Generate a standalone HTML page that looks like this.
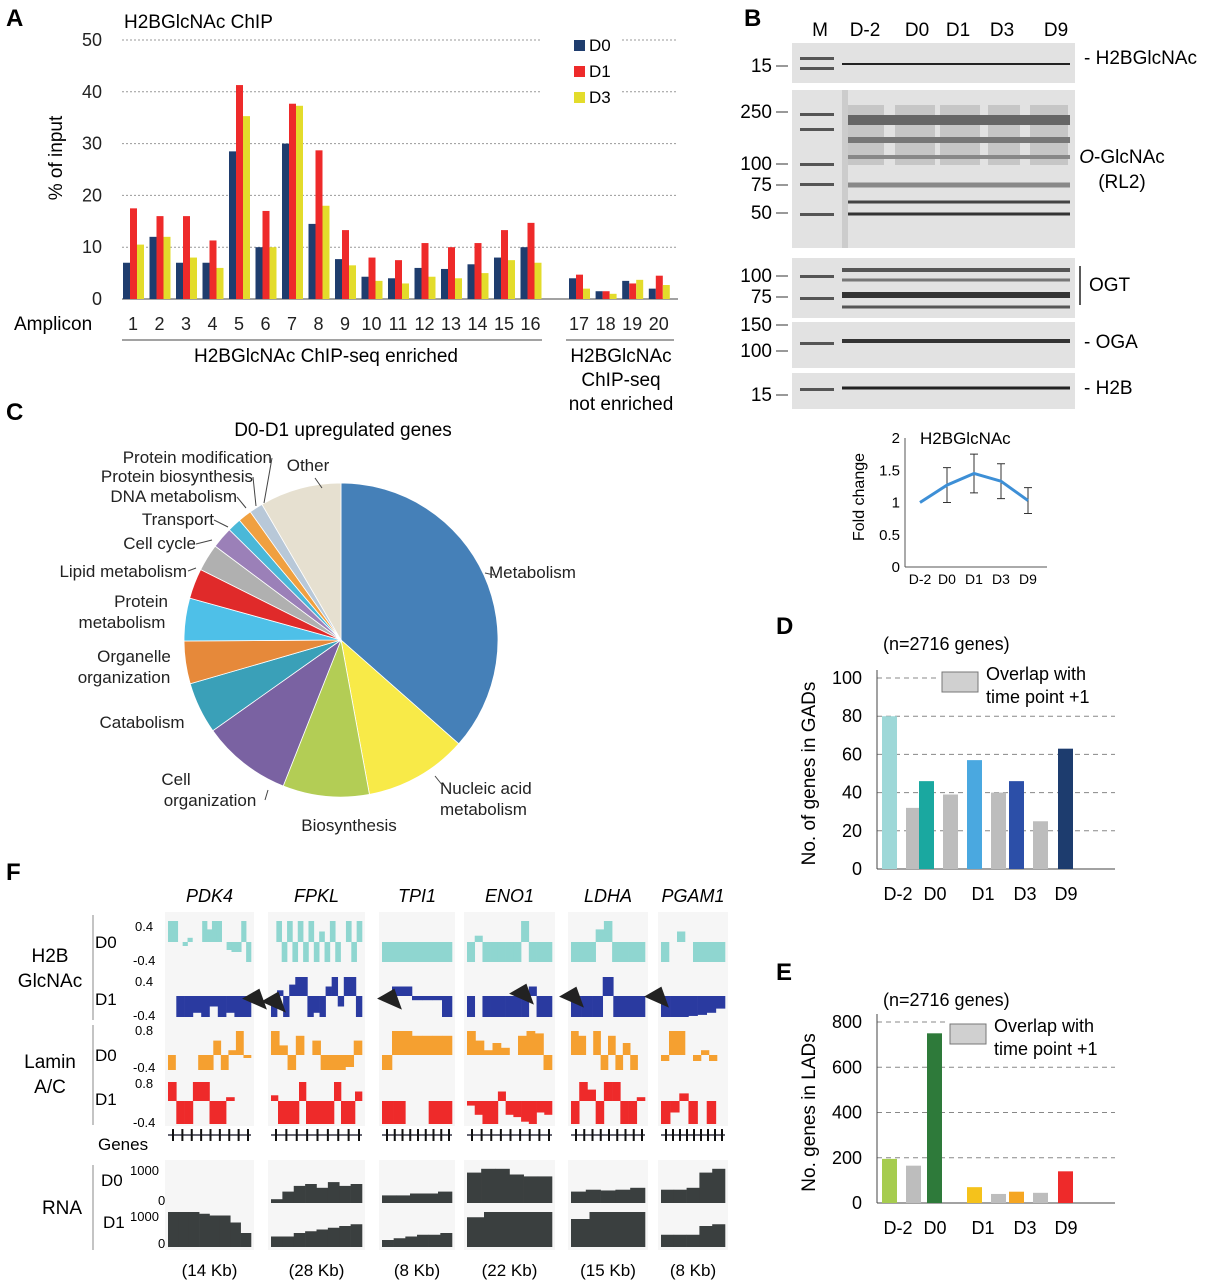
<!DOCTYPE html>
<html><head><meta charset="utf-8"><style>
body{margin:0;background:#fff}
svg{display:block;font-family:"Liberation Sans",Arial,sans-serif}
</style></head><body>
<svg id="fig" width="1217" height="1280" viewBox="0 0 1217 1280" xmlns="http://www.w3.org/2000/svg">
<g font-weight="bold" font-size="24">
<text x="6" y="26">A</text>
<text x="744" y="26">B</text>
<text x="6" y="420">C</text>
<text x="776" y="634">D</text>
<text x="6" y="880">F</text>
<text x="776" y="980">E</text>
</g>
<g id="panelA"></g>
<g id="panelB"></g>
<g id="panelC"></g>
<g id="panelD"></g>
<g id="panelE"></g>
<g id="panelF"></g>
</svg>
<script>
// ---------- Panel A data ----------
const ampliconLabels = ["1","2","3","4","5","6","7","8","9","10","11","12","13","14","15","16","17","18","19","20"];
const seriesD0 = [7,12,7,7,28.5,10,30,14.5,7.7,4.3,4,6,5.8,6.7,8,10,4,1.5,3.5,2];
const seriesD1 = [17.5,16,16,11.3,41.3,17,37.7,28.7,13.3,8,7.5,10.8,10,10.8,13.3,14.7,4.7,1.5,3,4.5];
const seriesD3 = [10.5,12,8,6,35.3,10,37.3,18,6.5,3.5,3,4.3,4,5,7.5,7,2,1,3.7,2.7];
const aTicks = [0,10,20,30,40,50];
// ---------- Fold change data ----------
const fcCats = ["D-2","D0","D1","D3","D9"];
const fcVals = [1,1.27,1.45,1.33,1.03];
const fcErr = [0,0.27,0.3,0.27,0.2];
const fcTicks = [0,0.5,1,1.5,2];
// ---------- Panel C data ----------
const pieLabels = ["Metabolism","Nucleic acid metabolism","Biosynthesis","Cell organization","Catabolism","Organelle organization","Protein metabolism","Lipid metabolism","Cell cycle","Transport","DNA metabolism","Protein biosynthesis","Protein modification","Other"];
const pieValues = [36.5,10.6,8.9,9.2,5.3,4.4,4.4,3.1,2.8,2.2,1.4,1.4,1.4,8.4];
// ---------- Panel D data ----------
const dCats = ["D-2","D0","D1","D3","D9"];
const dMain = [80,46,57,46,63];
const dOverlap = [32,39,40,25,null];
const dTicks = [0,20,40,60,80,100];
// ---------- Panel E data ----------
const eCats = ["D-2","D0","D1","D3","D9"];
const eMain = [195,750,70,50,140];
const eOverlap = [165,null,40,45,null];
const eTicks = [0,200,400,600,800];

const NS="http://www.w3.org/2000/svg";
function mk(parent,tag,attrs,text){const e=document.createElementNS(NS,tag);for(const k in attrs)e.setAttribute(k,attrs[k]);if(text!==undefined)e.textContent=text;parent.appendChild(e);return e;}

// ===== Panel A =====
(function(){
const g=document.getElementById('panelA');
const y=v=>299-v*(259/50);
const xs=i=> i<16 ? 133+i*26.5 : 579+(i-16)*26.6;
aTicks.forEach(t=>{
 if(t>0){const l=mk(g,'line',{x1:122,x2:678,y1:y(t),y2:y(t),stroke:'#999','stroke-dasharray':'2,2'});
 
 }
 const tx=mk(g,'text',{x:102,y:y(t)+6,'text-anchor':'end','font-size':18,fill:'#222'},t);
 
 
});
mk(g,'line',{x1:122,x2:678,y1:299,y2:299,stroke:'#444'});
const cols=['#1f3d6e','#ee2a2a','#e3dc2b'];
[seriesD0,seriesD1,seriesD3].forEach((s,k)=>{
 s.forEach((v,i)=>{
  const r=mk(g,'rect',{x:xs(i)-10+k*7,y:y(v),width:7,height:299-y(v),fill:cols[k]});
  
  
 });
});
ampliconLabels.forEach((l,i)=>{
 const t=mk(g,'text',{x:xs(i),y:330,'text-anchor':'middle','font-size':18,fill:'#222'},l);
 
 
});
mk(g,'rect',{x:540,y:38,width:80,height:88,fill:'#fff'});
const lg=[['D0',52],['D1',78],['D3',104]];
lg.forEach((d,k)=>{
 const r=mk(g,'rect',{x:574,y:d[1]-12,width:11,height:11,fill:cols[k]});
 
 
 const t=mk(g,'text',{x:589,y:d[1]-1,'font-size':17},d[0]);
 
 
});
const t1=mk(g,'text',{x:124,y:28,'font-size':19},'H2BGlcNAc ChIP');


const yt=mk(g,'text',{x:0,y:0,'font-size':19,'text-anchor':'middle',transform:'translate(62,158) rotate(-90)'},'% of input');


const amp=mk(g,'text',{x:14,y:330,'font-size':19},'Amplicon');


mk(g,'line',{x1:122,x2:542,y1:340,y2:340,stroke:'#444'});
mk(g,'line',{x1:566,x2:674,y1:340,y2:340,stroke:'#444'});
const e1=mk(g,'text',{x:326,y:362,'font-size':19,'text-anchor':'middle'},'H2BGlcNAc ChIP-seq enriched');


['H2BGlcNAc','ChIP-seq','not enriched'].forEach((s,i)=>{
 const t=mk(g,'text',{x:621,y:362+i*24,'font-size':19,'text-anchor':'middle'},s);
 
 
});
})();

// ===== Panel B blots =====
(function(){
const g=document.getElementById('panelB');
const lanes=[['M',820],['D-2',865],['D0',917],['D1',958],['D3',1002],['D9',1056]];
lanes.forEach(l=>{const t=mk(g,'text',{x:l[1],y:36,'font-size':19,'text-anchor':'middle'},l[0]);
 
 });
const boxes=[[43,40],[90,158],[258,60],[322,46],[373,36]];
boxes.forEach(b=>{const r=mk(g,'rect',{x:792,y:b[0],width:283,height:b[1],fill:'#e2e2e2'});
 
 });
[[57],[67],[113],[128],[163],[183],[213],[275],[297],[342],[388]].forEach(b=>mk(g,'rect',{x:800,y:b[0],width:34,height:3,fill:'#555'}));
[[848,884],[895,935],[940,980],[988,1020],[1030,1068]].forEach(l=>mk(g,'rect',{x:l[0],y:105,width:l[1]-l[0],height:60,fill:'#aaa',opacity:0.5}));
const bandsY=[[64,2,'#222'],[120,10,'#666'],[140,6,'#777'],[157,4,'#888'],[185,5,'#888'],[202,3,'#444'],[214,3,'#333'],[270,4,'#555'],[280,3,'#777'],[295,6,'#333'],[307,3,'#555'],[341,4,'#333'],[388,3,'#222']];
bandsY.forEach(b=>mk(g,'rect',{x:842,y:b[0]-b[1]/2,width:228,height:b[1],fill:b[2]}));
mk(g,'rect',{x:842,y:90,width:6,height:158,fill:'#ccc'});
const ml=[['15',72],['250',118],['100',170],['75',191],['50',219],['100',282],['75',303],['150',331],['100',357],['15',401]];
ml.forEach(m=>{const t=mk(g,'text',{x:772,y:m[1],'font-size':19,'text-anchor':'end'},m[0]);
 
 
 mk(g,'line',{x1:776,x2:788,y1:m[1]-6,y2:m[1]-6,stroke:'#333'});});
const rl=[['- H2BGlcNAc',1084,64],['- OGA',1084,348],['- H2B',1084,394],['OGT',1089,291]];
rl.forEach(r=>{const t=mk(g,'text',{x:r[1],y:r[2],'font-size':19},r[0]);
 
 });
mk(g,'line',{x1:1080,x2:1080,y1:266,y2:305,stroke:'#222','stroke-width':1.5});
const o1=mk(g,'text',{x:1122,y:163,'font-size':19,'text-anchor':'middle'});
const o1a=mk(o1,'tspan',{'font-style':'italic'},'O');
mk(o1,'tspan',{},'-GlcNAc');


const o2=mk(g,'text',{x:1122,y:188,'font-size':19,'text-anchor':'middle'},'(RL2)');


// fold change chart
const y=v=>567-v*(129/2);
const x=i=>920+i*27;
fcTicks.forEach(t=>{const tx=mk(g,'text',{x:900,y:y(t)+5,'font-size':15,'text-anchor':'end'},t);
 
 });
mk(g,'line',{x1:905,x2:905,y1:y(2),y2:567,stroke:'#555'});
mk(g,'line',{x1:905,x2:1047,y1:567,y2:567,stroke:'#555'});
fcCats.forEach((c,i)=>{const tx=mk(g,'text',{x:x(i),y:584,'font-size':14,'text-anchor':'middle'},c);
 
 });
fcVals.forEach((v,i)=>{if(fcErr[i]>0){
 const e=mk(g,'path',{d:`M${x(i)},${y(v+fcErr[i])}V${y(v-fcErr[i])}M${x(i)-4},${y(v+fcErr[i])}h8M${x(i)-4},${y(v-fcErr[i])}h8`,stroke:'#333',fill:'none'});
 
 }});
const ln=mk(g,'polyline',{points:fcVals.map((v,i)=>x(i)+','+y(v)).join(' '),fill:'none',stroke:'#3d8fd6','stroke-width':3});


const tt=mk(g,'text',{x:920,y:444,'font-size':17},'H2BGlcNAc');


const yt=mk(g,'text',{x:0,y:0,'font-size':16,'text-anchor':'middle',transform:'translate(864,497) rotate(-90)'},'Fold change');


})();

// ===== Panel C pie =====
(function(){
const g=document.getElementById('panelC');
const cx=341,cy=640,R=157;
const cols=['#4580b8','#f8ea48','#b3cd55','#7a62a2','#3aa0b8','#e6893a','#4ec0e8','#e02a2a','#b0b0b0','#9b80b8','#4ab8d8','#f0a040','#b8c8d8','#e6e0d0'];
const tot=pieValues.reduce((a,b)=>a+b,0);
let a0=0;
pieValues.forEach((v,i)=>{
 const a1=a0+v/tot*Math.PI*2;
 const p=a=>[cx+R*Math.sin(a),cy-R*Math.cos(a)];
 const s=p(a0),e=p(a1);
 const large=(a1-a0)>Math.PI?1:0;
 const path=mk(g,'path',{d:`M${cx},${cy}L${s[0]},${s[1]}A${R},${R} 0 ${large} 1 ${e[0]},${e[1]}Z`,fill:cols[i],stroke:'#fff','stroke-width':0.8});
 
 
 a0=a1;
});
const labs=[['Metabolism',489,578,'start'],['Nucleic acid',440,794,'start'],['metabolism',440,815,'start'],['Biosynthesis',349,831,'middle'],['Cell',176,785,'middle'],['organization',210,806,'middle'],['Catabolism',142,728,'middle'],['Organelle',134,662,'middle'],['organization',124,683,'middle'],['Protein',141,607,'middle'],['metabolism',122,628,'middle'],['Lipid metabolism',187,577,'end'],['Cell cycle',196,549,'end'],['Transport',214,525,'end'],['DNA metabolism',237,502,'end'],['Protein biosynthesis',253,482,'end'],['Protein modification',272,463,'end'],['Other',308,471,'middle']];
labs.forEach(l=>{const t=mk(g,'text',{x:l[1],y:l[2],'font-size':17,'text-anchor':l[3],fill:'#222'},l[0]);
 
 });
const ldr=['M188,571L196,568','M196,544L212,540','M214,520L228,527','M237,497L246,508','M253,477L256,506','M272,458L264,503','M315,478L322,488','M485,573L494,575','M443,786L435,776','M265,800L268,790'];
ldr.forEach(d=>mk(g,'path',{d:d,stroke:'#444',fill:'none'}));
const tt=mk(g,'text',{x:343,y:436,'font-size':19,'text-anchor':'middle'},'D0-D1 upregulated genes');


})();

// ===== Bar panels D/E =====
function barPanel(gid,cats,main,ov,ticks,y0,yTop,tmax,colors,prefix,title,ytitle,legY,legX){
 const g=document.getElementById(gid);
 const y=v=>y0-v*(y0-yTop)/tmax;
 const xc=[898,935,983,1025,1066];
 ticks.forEach(t=>{
  if(t>0){const l=mk(g,'line',{x1:877,x2:1115,y1:y(t),y2:y(t),stroke:'#888','stroke-dasharray':'5,4'});
  
  }
  const tx=mk(g,'text',{x:862,y:y(t)+6,'font-size':18,'text-anchor':'end'},t);
  
  
 });
 mk(g,'line',{x1:877,x2:877,y1:yTop-8,y2:y0,stroke:'#444'});
 mk(g,'line',{x1:877,x2:1115,y1:y0,y2:y0,stroke:'#444'});
 cats.forEach((c,i)=>{
  const off=ov[i]==null?0:-8;
  const r=mk(g,'rect',{x:xc[i]+off-8,y:y(main[i]),width:15,height:y0-y(main[i]),fill:colors[i]});
  
  
  if(ov[i]!=null){const o=mk(g,'rect',{x:xc[i]+8,y:y(ov[i]),width:15,height:y0-y(ov[i]),fill:'#bdbdbd'});
   
   }
  const tx=mk(g,'text',{x:xc[i],y:y0+31,'font-size':18,'text-anchor':'middle'},c);
  
  
 });
 mk(g,'rect',{x:legX-4,y:legY-22,width:180,height:52,fill:'#fff'});
 const sw=mk(g,'rect',{x:legX,y:legY-8,width:36,height:20,fill:'#d0d0d0',stroke:'#777'});
 
 
 const l1=mk(g,'text',{x:legX+44,y:legY,'font-size':18},'Overlap with');
 
 
 const l2=mk(g,'text',{x:legX+44,y:legY+23,'font-size':18},'time point +1');
 
 
 const tt=mk(g,'text',{x:883,y:title,'font-size':18},'(n=2716 genes)');
 
 
 const yt=mk(g,'text',{x:0,y:0,'font-size':19,'text-anchor':'middle',transform:`translate(815,${(y0+yTop)/2}) rotate(-90)`},ytitle);
 
 
}
barPanel('panelD',dCats,dMain,dOverlap,dTicks,869,678,100,['#9ed8d8','#1aa8a0','#4aa8e0','#2c4fa8','#1d3c6e'],'d',650,'No. of genes in GADs',680,942);
barPanel('panelE',eCats,eMain,eOverlap,eTicks,1203,1022,800,['#a6cc4f','#2e7a3a','#f5c21b','#f5a623','#ee2a2a'],'e',1006,'No. genes in LADs',1032,950);

// ===== Panel F tracks =====
(function(){
const g=document.getElementById('panelF');
const genes=[['PDK4',168,251,'(14 Kb)'],['FPKL',271,362,'(28 Kb)'],['TPI1',382,452,'(8 Kb)'],['ENO1',467,552,'(22 Kb)'],['LDHA',571,645,'(15 Kb)'],['PGAM1',661,725,'(8 Kb)']];
const h2bD0=[[1,1,0,-0.2,0.2,0,0,1,0.6,1,1,0,-0.4,-0.5,-0.5,1,-1],[0,1,-1,1,-1,1,-1,1,-1,0.5,-1,1,-1,0,1,-1,1],[-1,-1,-1,-1],[-1,0.3,-1,-1,-1,-1,-1,1,-1,-1,-1],[-1,-1,-1,0.6,1,-1,-1,-1,-1],[-1,0,0.5,0,-1,-1,-1,-1]];
const h2bD1=[[0,-1,-1,-0.8,-1,-0.5,-1,-0.8,-1,-1],[-1,0.3,-1,0.6,1,1,-1,-0.8,-1,0.5,1,-0.5,1,1,-1],[0,0.5,0.5,-0.2,-0.2,-0.2,-1],[-1,0,-1,-1,-1,-1,-1,-1,0.5,-1,-1],[-1,-1,-1,1,-1,-1,-1],[-1,-1,-1,-0.95,-0.9,-0.8,-0.6]];
const lamD0=[[-1,0,0,0,-1,-1,0.6,-1,0.2,1,-0.2],[1,0.4,-1,0.8,0,0.6,-1,-1,-1,-0.8,0.6],[-1,1,1,0.8,0.8,0.8,0.8],[1,0.6,0.2,0.5,0.3,0,0.8,1,0.9,-1],[1,0.8,0,1,-1,0.8,-1,0.5,-1,0],[-0.4,1,1,0,-0.4,0.2,-0.4,0]];
const lamD1=[[1,-1,-1,1,1,-1,-1,0.2,0,0],[0.3,-1,-1,-1,1,-1,-1,-1,-1,1,-1,-1,0.5],[-1,-1,0,0,-1,-1],[-0.2,-0.6,-1,-1,0.5,-0.6,-0.7,-0.9,-1,-0.5,-0.6],[-1,1,0.6,-1,1,1,-1,-1,0.2],[-1,-0.5,0.4,-1,0,-1,0]];
const rnaD0=[[0,0,0,0],[0.1,0.3,0.45,0.5,0.4,0.55,0.45,0.5],[0.2,0.2,0.25,0.25,0.3],[0.8,0.9,0.9,0.75,0.7,0.7],[0.3,0.35,0.33,0.35,0.4],[0.35,0.35,0.4,0.8,0.9]];
const rnaD1=[[1,1,1,0.95,0.9,0.9,0.7,0.4],[0.3,0.3,0.4,0.45,0.5,0.55,0.6,0.65],[0.2,0.25,0.3,0.35,0.35,0.4],[0.85,1,1,1,1],[0.8,1,1,1],[0.35,0.35,0.35,0.6,0.65]];
function track(profiles,top,base,bot,color,name){
 genes.forEach((gn,gi)=>{
  const pr=profiles[gi];const w=(gn[2]-gn[1])/pr.length;
  pr.forEach((v,k)=>{
   const yy=v>=0?base-v*(base-top):base;
   const hh=v>=0?v*(base-top):-v*(bot-base);
   if(hh>0){const r=mk(g,'rect',{x:gn[1]+k*w,y:yy,width:w+0.3,height:hh,fill:color});
    
    }
  });
 });
}
genes.forEach(gn=>{
 mk(g,'rect',{x:gn[1]-3,y:912,width:gn[2]-gn[1]+6,height:214,fill:'#f6f6f6'});
 mk(g,'rect',{x:gn[1]-3,y:1160,width:gn[2]-gn[1]+6,height:90,fill:'#f6f6f6'});
 const t=mk(g,'text',{x:(gn[1]+gn[2])/2,y:902,'font-size':18,'font-style':'italic','text-anchor':'middle'},gn[0]);
 
 
 const s=mk(g,'text',{x:(gn[1]+gn[2])/2,y:1276,'font-size':17,'text-anchor':'middle'},gn[3]);
 
 
 mk(g,'line',{x1:gn[1],x2:gn[2],y1:1135,y2:1135,stroke:'#334','stroke-width':1.5});
 for(let k=0;k<9;k++){mk(g,'rect',{x:gn[1]+4+k*(gn[2]-gn[1]-8)/8,y:1129,width:2,height:12,fill:'#111'});}
});
track(h2bD0,921,942,962,'#8fd6d0','f-h2b-d0-track');
track(h2bD1,977,996,1017,'#2a3aa0','f-h2b-d1-track');
track(lamD0,1031,1055,1070,'#f5a030','f-lamin-d0-track');
track(lamD1,1082,1101,1124,'#ee2a2a','f-lamin-d1-track');
genes.forEach((gn,gi)=>{
 [[rnaD0,1203,1165],[rnaD1,1247,1212]].forEach(([pr,b,t])=>{
  const p=pr[gi];const w=(gn[2]-gn[1])/p.length;
  p.forEach((v,k)=>{if(v>0){const r=mk(g,'rect',{x:gn[1]+k*w,y:b-v*(b-t),width:w+0.3,height:v*(b-t),fill:'#3a3f3f'});
   
   }});
 });
});
const big=[['H2B',50,962],['GlcNAc',50,987],['Lamin',50,1068],['A/C',50,1093],['RNA',62,1214]];
big.forEach(l=>{const t=mk(g,'text',{x:l[1],y:l[2],'font-size':19,'text-anchor':'middle'},l[0]);
 
 });
const lbl=[['D0',95,948,17],['D1',95,1005,17],['D0',95,1061,17],['D1',95,1105,17],['D0',101,1186,17],['D1',103,1228,17],['Genes',98,1150,17],['0.4',135,931,13],['-0.4',133,965,13],['0.4',135,986,13],['-0.4',133,1020,13],['0.8',135,1035,13],['-0.4',133,1072,13],['0.8',135,1088,13],['-0.4',133,1127,13],['1000',130,1175,13],['0',158,1205,13],['1000',130,1221,13],['0',158,1248,13]];
lbl.forEach(l=>{const t=mk(g,'text',{x:l[1],y:l[2],'font-size':l[3]},l[0]);
 
 });
[[915,1020],[1025,1125],[1165,1250]].forEach(r=>mk(g,'line',{x1:93,x2:93,y1:r[0],y2:r[1],stroke:'#888'}));
[[255,1005],[274,1008],[390,1005],[522,1000],[572,1003],[657,1003]].forEach(a=>{
 const p=mk(g,'path',{d:`M${a[0]-8},${a[1]-12}l18,0l2,0l-4,22z`,fill:'#222',transform:`rotate(-30 ${a[0]} ${a[1]})`});
 
 
});
})();
</script>
</body></html>
